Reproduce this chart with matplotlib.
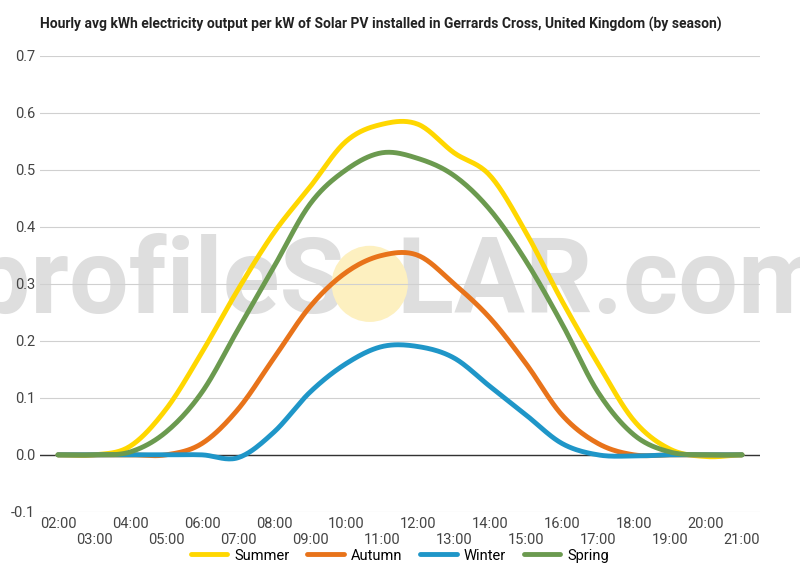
import matplotlib.pyplot as plt
import numpy as np
from matplotlib.patches import Ellipse

plt.rcParams["font.family"] = "Roboto"

hours = list(range(2, 22))
summer = [0.0, 0.0, 0.015, 0.08, 0.18, 0.29, 0.39, 0.47, 0.55, 0.58, 0.58, 0.53, 0.49, 0.39, 0.27, 0.16, 0.06, 0.01, -0.003, 0.0]
autumn = [0.0, 0.0, 0.0, 0.0, 0.02, 0.08, 0.17, 0.26, 0.32, 0.35, 0.35, 0.30, 0.24, 0.16, 0.07, 0.02, 0.0, 0.0, 0.0, 0.0]
winter = [0.0, 0.0, 0.0, 0.0, 0.0, -0.005, 0.04, 0.11, 0.16, 0.19, 0.19, 0.17, 0.12, 0.07, 0.02, 0.0, -0.002, 0.0, 0.0, 0.0]
spring = [0.0, 0.0, 0.005, 0.04, 0.11, 0.22, 0.33, 0.44, 0.50, 0.53, 0.52, 0.49, 0.43, 0.34, 0.23, 0.11, 0.035, 0.005, 0.0, 0.0]
tick_labels = [f"{h:02d}:00" for h in hours]

series = [("Summer", summer, "#ffd700"), ("Autumn", autumn, "#e8731a"),
          ("Winter", winter, "#1f96c8"), ("Spring", spring, "#6b9a4f")]


def smooth(x, y, n=20):
    # catmull-rom through the points, just for drawing
    x = np.asarray(x, float)
    y = np.asarray(y, float)
    xp = np.concatenate([[2 * x[0] - x[1]], x, [2 * x[-1] - x[-2]]])
    yp = np.concatenate([[y[0]], y, [y[-1]]])
    xs, ys = [], []
    for i in range(1, len(xp) - 2):
        t = np.linspace(0, 1, n, endpoint=False)
        for arr, out in ((xp, xs), (yp, ys)):
            p0, p1, p2, p3 = arr[i - 1:i + 3]
            out.extend(0.5 * (2 * p1 + (-p0 + p2) * t + (2 * p0 - 5 * p1 + 4 * p2 - p3) * t ** 2
                              + (-p0 + 3 * p1 - 3 * p2 + p3) * t ** 3))
    xs.append(x[-1])
    ys.append(y[-1])
    return np.array(xs), np.array(ys)


fig = plt.figure(figsize=(8, 5.7), dpi=100)
ax = fig.add_axes([0.05, 0.102, 0.9, 0.8])

ax.text(0.5, 0.5, "profileS  LAR.com", transform=ax.transAxes, ha="center", va="center",
        fontsize=76, fontweight="bold", color="#dedede", zorder=0)
ax.add_patch(Ellipse((0.458, 0.5), 0.106, 0.167, transform=ax.transAxes, color="#fdf0c0",
                     zorder=0, ec="none"))

for name, vals, col in series:
    xs, ys = smooth(hours, vals)
    ax.plot(xs, ys, color=col, lw=3.5, label=name, solid_capstyle="round", zorder=3)

ax.set_xlim(1.5, 21.5)
ax.set_ylim(-0.1, 0.7)
ax.set_yticks(np.arange(-0.1, 0.71, 0.1))
ax.set_yticklabels([f"{v:.1f}" for v in np.arange(-0.1, 0.71, 0.1)], color="#444444", fontsize=10.5)
ax.set_xticks(hours)
ax.set_xticklabels([lab if i % 2 == 0 else "\n" + lab for i, lab in enumerate(tick_labels)],
                   color="#444444", fontsize=10.5)
ax.tick_params(length=0)
ax.grid(axis="y", color="#d0d0d0", lw=0.8)
ax.axhline(0, color="#333333", lw=1)
for s in ax.spines.values():
    s.set_visible(False)

fig.text(0.05, 0.95, "Hourly avg kWh electricity output per kW of Solar PV installed in Gerrards Cross, United Kingdom (by season)",
         fontsize=10, fontweight="bold", color="#222222")
fig.legend(*ax.get_legend_handles_labels(), loc="lower center", bbox_to_anchor=(0.5, -0.01), ncol=4,
           frameon=False, fontsize=10.5, handlelength=2.5, columnspacing=1.2, handletextpad=0.5)
fig.savefig("out.png")
